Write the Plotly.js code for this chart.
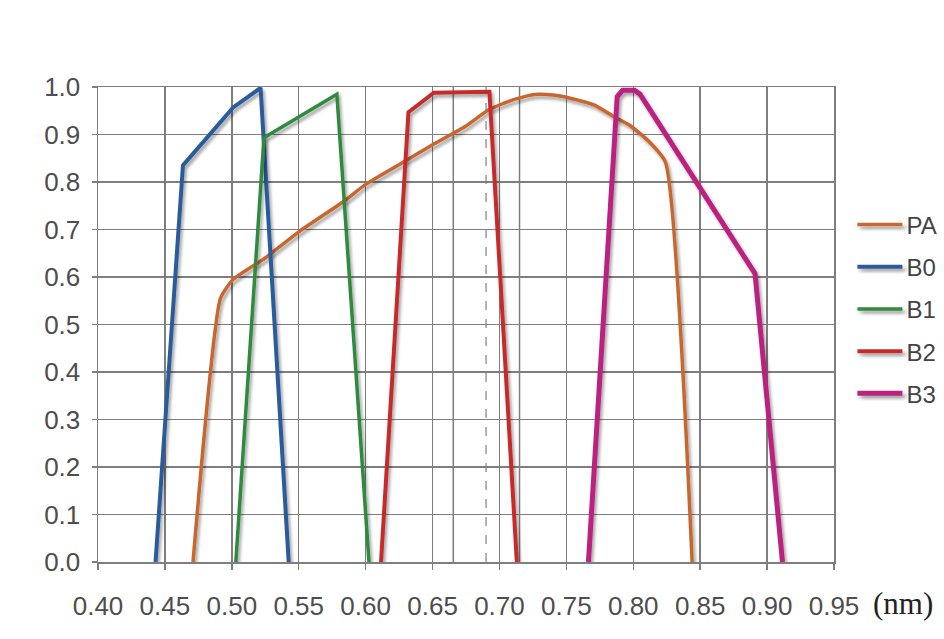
<!DOCTYPE html>
<html>
<head>
<meta charset="utf-8">
<script src="https://cdn.plot.ly/plotly-3.0.1.min.js"></script>
<style>
  html, body { margin: 0; padding: 0; background: #ffffff; }
  #chart { width: 944px; height: 639px; }
  .scatterlayer .trace .lines path.js-line { filter: url(#lineShadow); }
  .legend .legendlines path {
    filter: url(#lineShadow);
    transform-box: fill-box; transform-origin: left center; transform: scaleX(1.5);
  }
  .legend .legendtext { transform: translateX(14px); }
  .legend .scrollbox { clip-path: none !important; }
</style>
</head>
<body>
<svg width="0" height="0" style="position:absolute">
  <defs>
    <filter id="lineShadow" filterUnits="userSpaceOnUse" x="-2000" y="-2000" width="5000" height="5000">
      <feDropShadow dx="2" dy="3" stdDeviation="1.6" flood-color="#000000" flood-opacity="0.35"/>
    </filter>
  </defs>
</svg>
<div id="chart"></div>
<script>
// ---- data ----
const seriesNames = ["PA", "B0", "B1", "B2", "B3"];

const paX = [0.471, 0.4915, 0.501, 0.525, 0.55, 0.584, 0.60, 0.627, 0.651, 0.675, 0.692, 0.71, 0.726, 0.74, 0.752, 0.771, 0.786, 0.797, 0.81, 0.824, 0.844];
const paY = [0.0, 0.555, 0.595, 0.64, 0.695, 0.76, 0.795, 0.84, 0.88, 0.918, 0.952, 0.973, 0.984, 0.983, 0.977, 0.962, 0.937, 0.92, 0.89, 0.842, 0.0];

const b0X = [0.443, 0.4635, 0.501, 0.5215, 0.5425];
const b0Y = [0.0, 0.835, 0.957, 0.998, 0.0];

const b1X = [0.503, 0.524, 0.5785, 0.6025];
const b1Y = [0.0, 0.893, 0.985, 0.0];

const b2X = [0.6115, 0.632, 0.651, 0.6925, 0.713];
const b2Y = [0.0, 0.947, 0.988, 0.99, 0.0];

const b3X = [0.7665, 0.788, 0.792, 0.801, 0.805, 0.891, 0.9115];
const b3Y = [0.0, 0.98, 0.993, 0.993, 0.985, 0.607, 0.0];

const refLineX = [0.690];
const extraGridX = [0.6655, 0.715];

const xTickVals = [0.40, 0.45, 0.50, 0.55, 0.60, 0.65, 0.70, 0.75, 0.80, 0.85, 0.90, 0.95];
const xTickText = ["0.40", "0.45", "0.50", "0.55", "0.60", "0.65", "0.70", "0.75", "0.80", "0.85", "0.90", "0.95"];
const yTickVals = [0.0, 0.1, 0.2, 0.3, 0.4, 0.5, 0.6, 0.7, 0.8, 0.9, 1.0];
const yTickText = ["0.0", "0.1", "0.2", "0.3", "0.4", "0.5", "0.6", "0.7", "0.8", "0.9", "1.0"];
const unitLabel = "(nm)";

// ---- styles ----
const colors = ["#c9662f", "#2b5c9c", "#2f8a3e", "#c62c2c", "#bb2380"];
const widths = [3.5, 4, 3.5, 4, 5];
const narrowFont = "'Liberation Sans Narrow', 'Arial Narrow', 'Liberation Sans', Arial, sans-serif";
const gridColor = "#7e7e7e";

const xs = [paX, b0X, b1X, b2X, b3X];
const ys = [paY, b0Y, b1Y, b2Y, b3Y];

const traces = [];
for (let i = 0; i < seriesNames.length; i++) {
  traces.push({
    x: xs[i], y: ys[i], name: seriesNames[i], type: "scatter", mode: "lines",
    legendgroup: seriesNames[i],
    line: { color: colors[i], width: widths[i], shape: i === 0 ? "spline" : "linear", smoothing: 0.5 }
  });
}

const shapes = extraGridX.map(v => ({
  type: "line", xref: "x", yref: "y", x0: v, x1: v, y0: 0, y1: 1,
  line: { color: gridColor, width: 1.5 }, layer: "below"
})).concat(refLineX.map(v => ({
  type: "line", xref: "x", yref: "y", x0: v, x1: v, y0: 0, y1: 1,
  line: { color: "#9a9a9a", width: 1.5, dash: "dash" }, layer: "below"
})));

const layout = {
  width: 944, height: 639,
  margin: { l: 98, r: 110, t: 87, b: 77 },
  paper_bgcolor: "#ffffff", plot_bgcolor: "#ffffff",
  showlegend: true,
  legend: {
    x: 1.025, y: 0.757, xanchor: "left", yanchor: "top",
    font: { family: narrowFont, size: 24, color: "#444444" },
    tracegroupgap: 8, bgcolor: "rgba(0,0,0,0)"
  },
  xaxis: {
    range: [0.40, 0.95], tickvals: xTickVals, ticktext: xTickText,
    showgrid: true, gridcolor: gridColor, gridwidth: 1.5, zeroline: false,
    showline: true, linecolor: gridColor, linewidth: 1.5, mirror: true,
    ticks: "outside", ticklen: 6, tickcolor: gridColor, tickwidth: 1.5,
    ticklabelstandoff: 14,
    tickfont: { family: narrowFont, size: 26, color: "#4d4d4d" }
  },
  yaxis: {
    range: [0, 1.0], tickvals: yTickVals, ticktext: yTickText,
    showgrid: true, gridcolor: gridColor, gridwidth: 1.5, zeroline: false,
    showline: true, linecolor: gridColor, linewidth: 1.5, mirror: true,
    ticks: "outside", ticklen: 5, tickcolor: gridColor, tickwidth: 1.5,
    ticklabelstandoff: 6,
    tickfont: { family: narrowFont, size: 26, color: "#4d4d4d" }
  },
  shapes: shapes,
  annotations: [{
    text: unitLabel, xref: "paper", yref: "paper", x: 1.05, y: 0, yshift: -41,
    xanchor: "left", yanchor: "middle", showarrow: false,
    font: { family: "'Liberation Serif', 'Times New Roman', serif", size: 31, color: "#222222" }
  }]
};

Plotly.newPlot("chart", traces, layout, { displayModeBar: false, staticPlot: true });
</script>
</body>
</html>
